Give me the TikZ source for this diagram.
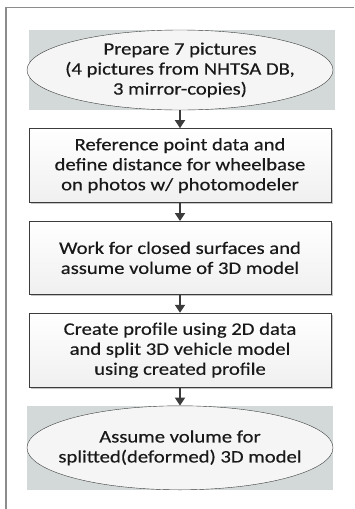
\documentclass[tikz,border=0pt]{standalone}
\usepackage{fontspec}
\setmainfont{Carlito}[FakeStretch=1.18, FakeBold=0.4]
\usetikzlibrary{arrows.meta, positioning, shapes.geometric, fit, backgrounds, shadows}

\definecolor{framegray}{HTML}{8C8C8C}
\definecolor{backgray}{HTML}{D3D9D9}
\definecolor{linegray}{HTML}{3C3C3C}

\begin{document}
\begin{tikzpicture}[node distance=18pt, every node/.style={font=\fontsize{17.5}{20}\selectfont, align=center, text=black!90},
    terminal/.style={ellipse, draw=linegray, fill=white!96!black, minimum width=306pt, minimum height=80pt, inner sep=-40pt},
    process/.style={rectangle, draw=linegray, line width=0.8pt, top color=white, bottom color=black!6, minimum width=302pt, minimum height=74pt,
        drop shadow={shadow xshift=1.6pt, shadow yshift=-1.6pt, fill=black!45}},
    flow/.style={-{Triangle[length=8pt, width=10pt]}, line width=1.8pt, draw=linegray}]
    \useasboundingbox (0,0) rectangle (354pt,-509pt);

    % Frame
    \draw[framegray, line width=1pt] (5pt,-7pt) -- (354pt,-7pt);
    \draw[framegray, line width=1.4pt] (6pt,-7pt) -- (6pt,-509pt);

    % Nodes
    \node[terminal] (prep) at (180pt,-70pt) {Prepare 7 pictures\\(4 pictures from NHTSA DB,\\3 mirror-copies)};
    \node[process, below=of prep] (refpt) {Reference point data and\\define distance for wheelbase\\on photos w/ photomodeler};
    \node[process, below=of refpt, minimum height=73pt] (surf) {Work for closed surfaces and\\assume volume of 3D model};
    \node[process, below=of surf] (split) {Create profile using 2D data\\and split 3D vehicle model\\using created profile};
    \node[terminal, below=of split, minimum height=84pt] (vol) {Assume volume for\\splitted(deformed) 3D model};

    % Gray boxes behind the terminals
    \begin{scope}[on background layer]
        \node[fit=(prep), inner sep=0pt, fill=backgray, xshift=2pt, minimum width=302pt] (prepbg) {};
        \node[fit=(vol), inner sep=0pt, fill=backgray, minimum width=304pt] (volbg) {};
    \end{scope}

    % Arrows
    \draw[flow] (prep) -- (refpt);
    \draw[flow] (refpt) -- (surf);
    \draw[flow] (surf) -- (split);
    \draw[flow] (split) -- (vol);
\end{tikzpicture}
\end{document}
